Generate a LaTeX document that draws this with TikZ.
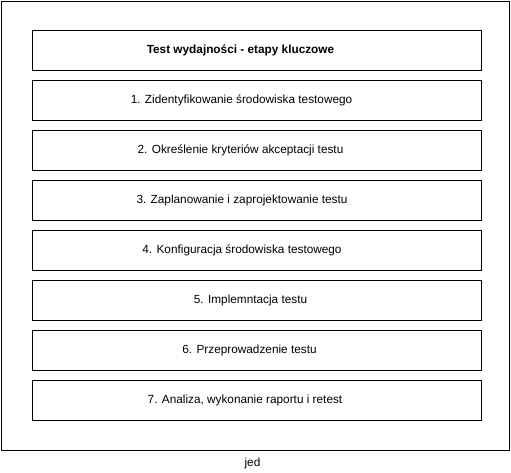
\documentclass[tikz,border=0pt]{standalone}
\usepackage{fontspec}
\setmainfont{Liberation Sans}
\usetikzlibrary{positioning}

\tikzset{
  stage/.style={draw, line width=1pt, minimum width=449pt, minimum height=40pt,
    inner sep=0pt, outer sep=0pt},
  stagetext/.style={inner sep=0pt, font=\fontsize{11.8}{14}\selectfont},
}

\begin{document}
\begin{tikzpicture}[x=1pt, y=-1pt]
% Set the page size
\useasboundingbox (0, 0) rectangle (511, 472);

% Outer frame and its label
\node[draw, line width=1pt, minimum width=508pt, minimum height=449pt, inner sep=0pt] (frame) at (255.5, 225.5) {};
\node[stagetext] (jed) at (252.5, 463.5) {jed};

% Boxes of the title and the stages
\node[stage] (title) at (256.5, 50.5) {};
\node[stage, below=10pt of title] (s1) {};
\node[stage, below=10pt of s1] (s2) {};
\node[stage, below=10pt of s2] (s3) {};
\node[stage, below=10pt of s3] (s4) {};
\node[stage, below=10pt of s4] (s5) {};
\node[stage, below=10pt of s5] (s6) {};
\node[stage, below=10pt of s6] (s7) {};

% Texts in the boxes
\node[stagetext, font=\fontsize{11.8}{14}\selectfont\bfseries, xshift=-16pt] (ttitle) at (title) {Test wydajności - etapy kluczowe};
\node[stagetext, xshift=-15pt] (t1) at (s1) {1. Zidentyfikowanie środowiska testowego};
\node[stagetext, xshift=-16pt] (t2) at (s2) {2. Określenie kryteriów akceptacji testu};
\node[stagetext, xshift=-14.5pt] (t3) at (s3) {3. Zaplanowanie i zaprojektowanie testu};
\node[stagetext, xshift=-14.5pt] (t4) at (s4) {4. Konfiguracja środowiska testowego};
\node[stagetext, xshift=-6pt] (t5) at (s5) {5. Implemntacja testu};
\node[stagetext, xshift=-7pt] (t6) at (s6) {6. Przeprowadzenie testu};
\node[stagetext, xshift=-11.5pt] (t7) at (s7) {7. Analiza, wykonanie raportu i retest};
\end{tikzpicture}
\end{document}
